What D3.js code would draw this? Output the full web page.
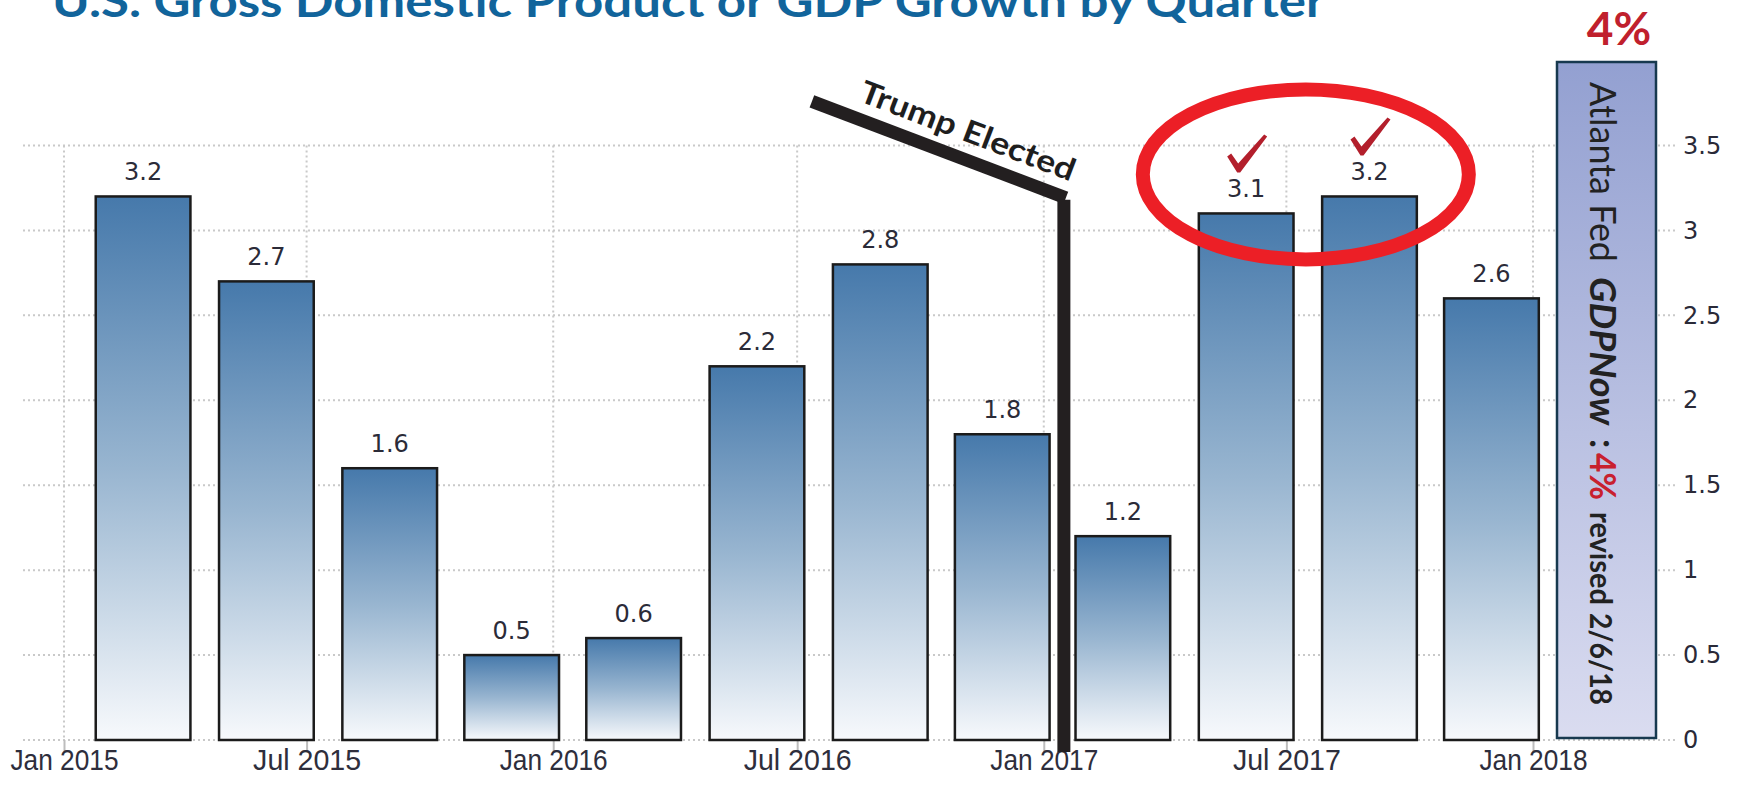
<!DOCTYPE html>
<html>
<head>
<meta charset="utf-8">
<script src="https://cdn.jsdelivr.net/npm/d3@7"></script>
<style>
  html, body { margin: 0; padding: 0; background: #ffffff; }
  svg { display: block; }
</style>
</head>
<body>
<svg id="chart" width="1739" height="787"></svg>
<script>
// ---- data -------------------------------------------------------------
// Each bar is placed at the first day of the quarter's last month.
const quarterDates = ["2015-03-01", "2015-06-01", "2015-09-01", "2015-12-01",
                      "2016-03-01", "2016-06-01", "2016-09-01", "2016-12-01",
                      "2017-03-01", "2017-06-01", "2017-09-01", "2017-12-01"];
const growthRates  = [3.2, 2.7, 1.6, 0.5, 0.6, 2.2, 2.8, 1.8, 1.2, 3.1, 3.2, 2.6];
const highlighted  = [9, 10];   // quarters ticked and circled

const xTickDates  = ["2015-01-01", "2015-07-01", "2016-01-01", "2016-07-01",
                     "2017-01-01", "2017-07-01", "2018-01-01"];
const xTickLabels = ["Jan 2015", "Jul 2015", "Jan 2016", "Jul 2016",
                     "Jan 2017", "Jul 2017", "Jan 2018"];
const yTicks      = [0, 0.5, 1, 1.5, 2, 2.5, 3, 3.5];

const titleText   = "U.S. Gross Domestic Product or GDP Growth by Quarter";
const markerLabel = "Trump Elected";
const markerDate  = "2017-01-16";
const markerTop   = 3.18;
const leaderStart = ["2016-07-12", 3.76];
const gdpNowValue = "4%";
// caption pieces: text, weight, style, colour, size, start offset, run length
const gdpNowParts = [
  { text: "Atlanta Fed", weight: "normal", style: "normal", color: "#222222", size: 36, at: 82,  len: 180 },
  { text: "GDPNow",      weight: "bold",   style: "italic", color: "#222222", size: 36, at: 277, len: 148 },
  { text: ":",           weight: "bold",   style: "normal", color: "#222222", size: 36, at: 439, len: 0 },
  { text: "4%",          weight: "bold",   style: "normal", color: "#c8202e", size: 37, at: 453, len: 47 },
  { text: "revised",     weight: "bold",   style: "normal", color: "#222222", size: 31, at: 512, len: 93 },
  { text: "2/6/18",      weight: "bold",   style: "normal", color: "#222222", size: 31, at: 613, len: 92 }
];

// ---- scales -----------------------------------------------------------
const parse = d3.utcParse("%Y-%m-%d");
const svg = d3.select("#chart");

const x = d3.scaleUtc()
  .domain([parse("2015-01-01"), parse("2018-01-01")])
  .range([64, 1533]);
const y = d3.scaleLinear().domain([0, 3.5]).range([740, 145.5]);

const quarterStep = x(parse("2015-04-01")) - x(parse("2015-01-01"));
const barWidth = quarterStep * 0.785;
const gridLeft = 23, gridRight = 1678;

const defs = svg.append("defs");
const barGrad = defs.append("linearGradient")
  .attr("id", "barFill").attr("x1", 0).attr("y1", 0).attr("x2", 0).attr("y2", 1);
barGrad.append("stop").attr("offset", "0%").attr("stop-color", "#4679ab");
barGrad.append("stop").attr("offset", "50%").attr("stop-color", "#98b5d0");
barGrad.append("stop").attr("offset", "100%").attr("stop-color", "#f7f9fc");

const boxGrad = defs.append("linearGradient")
  .attr("id", "boxFill").attr("x1", 0).attr("y1", 0).attr("x2", 0).attr("y2", 1);
boxGrad.append("stop").attr("offset", "0%").attr("stop-color", "#93a0d1");
boxGrad.append("stop").attr("offset", "100%").attr("stop-color", "#dadcf0");

// ---- title ------------------------------------------------------------
svg.append("text")
  .attr("x", 52).attr("y", 17)
  .attr("font-family", "Lato, 'Open Sans', sans-serif")
  .attr("font-weight", "bold")
  .attr("font-size", 44)
  .attr("fill", "#11649b")
  .attr("textLength", 1273)
  .attr("lengthAdjust", "spacingAndGlyphs")
  .text(titleText);

// ---- grid -------------------------------------------------------------
const grid = svg.append("g").attr("stroke", "#c9c9c9").attr("stroke-width", 2)
  .attr("stroke-dasharray", "2,3");
grid.selectAll("line.h").data(yTicks).join("line").attr("class", "h")
  .attr("x1", gridLeft).attr("x2", gridRight)
  .attr("y1", d => y(d)).attr("y2", d => y(d));
grid.selectAll("line.v").data(xTickDates).join("line").attr("class", "v")
  .attr("x1", d => x(parse(d))).attr("x2", d => x(parse(d)))
  .attr("y1", y(3.5)).attr("y2", y(0));

// ---- x axis -----------------------------------------------------------
const xAxis = d3.axisBottom(x)
  .tickValues(xTickDates.map(parse))
  .tickFormat((d, i) => xTickLabels[i])
  .tickSize(12).tickPadding(14);
const gx = svg.append("g").attr("transform", `translate(0,${y(0)})`).call(xAxis);
gx.select(".domain").remove();
gx.selectAll(".tick line").attr("stroke", "#bdbdbd").attr("stroke-width", 2);
gx.selectAll(".tick text")
  .attr("font-family", "'Liberation Sans Narrow', 'Liberation Sans', Arial, sans-serif")
  .attr("font-size", 30)
  .attr("fill", "#2e2e3c")
  .attr("dy", "0.71em")
  .attr("y", 9)
  .attr("textLength", 108)
  .attr("lengthAdjust", "spacingAndGlyphs");

// ---- y axis (right) ---------------------------------------------------
const yAxis = d3.axisRight(y).tickValues(yTicks).tickFormat(d3.format("")).tickSize(0).tickPadding(0);
const gy = svg.append("g").attr("transform", "translate(1683,0)").call(yAxis);
gy.select(".domain").remove();
gy.selectAll(".tick text")
  .attr("font-family", "'DejaVu Sans', Verdana, sans-serif")
  .attr("font-size", 24)
  .attr("fill", "#2a2a38");

// ---- bars -------------------------------------------------------------
const bars = quarterDates.map((d, i) => ({ date: parse(d), value: growthRates[i], i }));

svg.append("g").selectAll("rect").data(bars).join("rect")
  .attr("x", d => x(d.date) - barWidth / 2)
  .attr("y", d => y(d.value))
  .attr("width", barWidth)
  .attr("height", d => y(0) - y(d.value))
  .attr("fill", "url(#barFill)")
  .attr("stroke", "#1b1b1b")
  .attr("stroke-width", 2.5);

svg.append("g").selectAll("text").data(bars).join("text")
  .attr("x", d => x(d.date))
  .attr("y", d => y(d.value) - 16)
  .attr("text-anchor", "middle")
  .attr("font-family", "'DejaVu Sans', Verdana, sans-serif")
  .attr("font-size", 24)
  .attr("fill", "#2b2b38")
  .text(d => d3.format(".1f")(d.value));

// ---- Atlanta Fed GDPNow box ------------------------------------------
svg.append("rect")
  .attr("x", 1557).attr("y", 62).attr("width", 99).attr("height", 676)
  .attr("fill", "url(#boxFill)")
  .attr("stroke", "#17394f").attr("stroke-width", 2.5);

// caption runs top-to-bottom; local x is the distance down the page
const caption = svg.append("g").attr("transform", "translate(1590,0) rotate(90)");
caption.selectAll("text").data(gdpNowParts).join("text")
  .attr("x", d => d.at)
  .attr("y", 0)
  .attr("font-family", "Lato, 'Open Sans', sans-serif")
  .attr("font-size", d => d.size)
  .attr("font-weight", d => d.weight)
  .attr("font-style", d => d.style)
  .attr("fill", d => d.color)
  .each(function (d) {
    if (d.len > 0) d3.select(this).attr("textLength", d.len).attr("lengthAdjust", "spacingAndGlyphs");
  })
  .text(d => d.text);

svg.append("text")
  .attr("x", 1619).attr("y", 45)
  .attr("text-anchor", "middle")
  .attr("font-family", "Lato, 'Open Sans', sans-serif")
  .attr("font-weight", "bold")
  .attr("font-size", 46)
  .attr("fill", "#c0202d")
  .text(gdpNowValue);

// ---- "Trump Elected" marker ------------------------------------------
const mx = x(parse(markerDate));
const p0 = [x(parse(leaderStart[0])), y(leaderStart[1])];
const p1 = [mx + 2, y(markerTop) - 2];
const marker = svg.append("g").attr("stroke", "#231f20").attr("stroke-width", 13);
marker.append("line").attr("x1", p0[0]).attr("y1", p0[1]).attr("x2", p1[0]).attr("y2", p1[1]);
marker.append("line").attr("x1", mx).attr("x2", mx).attr("y1", y(markerTop)).attr("y2", y(0) + 12);

const ang = Math.atan2(p1[1] - p0[1], p1[0] - p0[0]);
const t = 0.575;
const tx = p0[0] + (p1[0] - p0[0]) * t, ty = p0[1] + (p1[1] - p0[1]) * t;
svg.append("text")
  .attr("transform", `translate(${tx},${ty}) rotate(${ang * 180 / Math.PI})`)
  .attr("y", -17)
  .attr("text-anchor", "middle")
  .attr("font-family", "Lato, 'Open Sans', sans-serif")
  .attr("font-weight", "bold")
  .attr("font-size", 31)
  .attr("fill", "#1e1e1e")
  .attr("textLength", 228)
  .attr("lengthAdjust", "spacingAndGlyphs")
  .text(markerLabel);

// ---- highlight ring and ticks ----------------------------------------
const hx = (x(bars[highlighted[0]].date) + x(bars[highlighted[1]].date)) / 2;
svg.append("ellipse")
  .attr("cx", hx - 2).attr("cy", y(3.33))
  .attr("rx", 163).attr("ry", 85)
  .attr("fill", "none")
  .attr("stroke", "#ec1f26").attr("stroke-width", 14);

const checkPath = "M -12,-15 L -8,-18 L -1,-8 L 25,-37 L 28,-35 L 1,1 L -2,1 Z";
svg.append("g").selectAll("path").data(highlighted.map(i => bars[i])).join("path")
  .attr("transform", d => `translate(${x(d.date) - 7},${y(d.value) - 42})`)
  .attr("d", checkPath)
  .attr("fill", "#b31f2c");
</script>
</body>
</html>
